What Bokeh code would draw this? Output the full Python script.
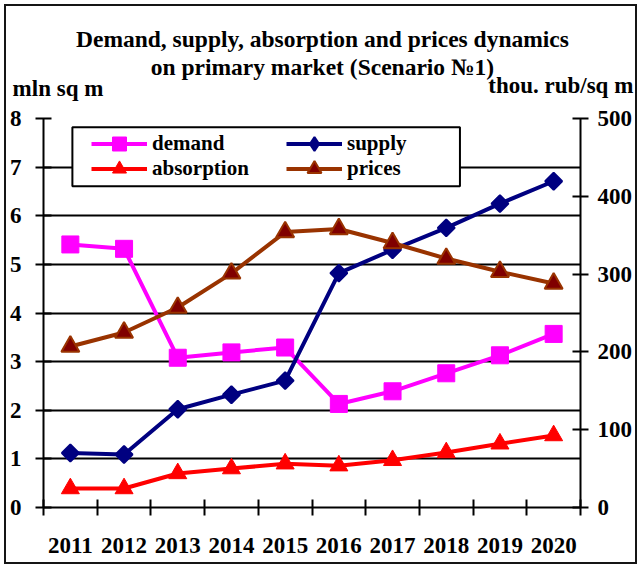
import numpy as np
from bokeh.plotting import figure
from bokeh.models import (Range1d, LinearAxis, FixedTicker, Legend, LegendItem,
                          Label, BoxAnnotation)
from bokeh.embed import file_html
from bokeh.resources import INLINE

# ---------------- data ----------------
years = ["2011", "2012", "2013", "2014", "2015", "2016", "2017", "2018", "2019", "2020"]
demand = [5.41, 5.32, 3.08, 3.19, 3.29, 2.13, 2.39, 2.76, 3.13, 3.57]
supply = [1.12, 1.09, 2.02, 2.32, 2.61, 4.82, 5.30, 5.75, 6.25, 6.71]
absorption = [0.39, 0.39, 0.70, 0.80, 0.90, 0.86, 0.97, 1.13, 1.31, 1.48]
prices = [207, 225, 257, 301, 354, 358, 340, 320, 303, 288]
left_ticks = [0, 1, 2, 3, 4, 5, 6, 7, 8]
right_ticks = [0, 100, 200, 300, 400, 500]

title_lines = ["Demand, supply, absorption and prices dynamics",
               "on primary market (Scenario \u21161)"]
left_unit = "mln sq m"
right_unit = "thou. rub/sq m"

FONT = "Liberation Serif"
x = np.arange(len(years)) + 0.5

p = figure(width=629, height=556, output_backend="svg", toolbar_location=None,
           x_range=Range1d(0, len(years)), y_range=Range1d(0, 8),
           min_border_left=37, min_border_right=53, min_border_top=112,
           min_border_bottom=55,
           styles={"margin-left": "6px", "margin-top": "6px",
                   "outline": "2px solid #151515"})
p.extra_y_ranges = {"price": Range1d(0, 500)}
p.outline_line_color = None
p.background_fill_color = "white"
p.border_fill_color = "white"

# grid
p.xgrid.grid_line_color = None
p.ygrid.ticker = FixedTicker(ticks=left_ticks)
p.ygrid.grid_line_color = "black"
p.ygrid.grid_line_width = 2

# bottom axis (labels at centers, ticks at boundaries)
xa = p.xaxis[0]
xa.ticker = FixedTicker(ticks=list(x), minor_ticks=list(range(len(years) + 1)))
xa.major_label_overrides = {float(xx): y for xx, y in zip(x, years)}
xa.major_tick_in = 0
xa.major_tick_out = 0
xa.minor_tick_in = 8
xa.minor_tick_out = 8
xa.minor_tick_line_color = "black"
xa.minor_tick_line_width = 2
xa.axis_line_width = 2
xa.major_label_standoff = 22
xa.major_label_text_font = FONT
xa.major_label_text_font_style = "bold"
xa.major_label_text_font_size = "23px"
xa.major_label_text_color = "black"

# left axis
ya = p.yaxis[0]
ya.ticker = FixedTicker(ticks=left_ticks)
ya.major_tick_in = 8
ya.major_tick_out = 8
ya.major_tick_line_width = 2
ya.minor_tick_line_color = None
ya.axis_line_width = 2
ya.major_label_standoff = 14
ya.major_label_text_font = FONT
ya.major_label_text_font_style = "bold"
ya.major_label_text_font_size = "23px"
ya.major_label_text_color = "black"

# right axis
ra = LinearAxis(y_range_name="price", ticker=FixedTicker(ticks=right_ticks))
ra.major_tick_in = 8
ra.major_tick_out = 8
ra.major_tick_line_width = 2
ra.minor_tick_line_color = None
ra.axis_line_width = 2
ra.major_label_standoff = 9
ra.major_label_text_font = FONT
ra.major_label_text_font_style = "bold"
ra.major_label_text_font_size = "23px"
ra.major_label_text_color = "black"
p.add_layout(ra, "right")

# series
lw = 4
l_dem = p.line(x, demand, line_color="#FF00FF", line_width=lw, line_join="round")
s_dem = p.scatter(x, demand, marker="square", size=17, fill_color="#FF00FF",
                  line_color="#FF00FF")
l_sup = p.line(x, supply, line_color="#000080", line_width=lw, line_join="round")
s_sup = p.scatter(x, supply, marker="square", angle=np.pi / 4, size=12,
                  fill_color="#000080", line_color="#000080", line_width=2)
# legend-only diamond glyph (a single missing point, nothing is plotted)
s_sup_leg = p.scatter(x=[np.nan], y=[np.nan], marker="diamond", size=12,
                      fill_color="#000080", line_color="#000080", line_width=2)
l_abs = p.line(x, absorption, line_color="#FF0000", line_width=lw, line_join="round")
s_abs = p.scatter(x, absorption, marker="triangle", size=18, fill_color="#FF0000",
                  line_color="#FF0000")
l_pr = p.line(x, prices, y_range_name="price", line_color="#993300", line_width=lw,
              line_join="round")
s_pr = p.scatter(x, prices, y_range_name="price", marker="triangle", size=18,
                 fill_color="#800000", line_color="#993300", line_width=2)

# legend box
box = BoxAnnotation(left=(72 - 43) / 53.9, right=(461 - 43) / 53.9,
                    top=(507 - 127) / 48.6, bottom=(507 - 186) / 48.6,
                    fill_color="white", fill_alpha=1, line_color="black",
                    line_width=2, line_alpha=1)
p.add_layout(box)


def mk_legend(label, rends, loc):
    lg = Legend(items=[LegendItem(label=label, renderers=rends)], location=loc,
                orientation="vertical",
                border_line_color=None, background_fill_alpha=0,
                padding=0, margin=0, spacing=0, glyph_width=56, glyph_height=35,
                label_height=22, label_standoff=5,
                label_text_font=FONT, label_text_font_style="bold",
                label_text_font_size="21px", label_text_color="black")
    p.add_layout(lg, "center")


row1 = 507 - 143 - 17.5
row2 = 507 - 168 - 17.5
mk_legend("demand", [l_dem, s_dem], (48, row1))
mk_legend("absorption", [l_abs, s_abs], (48, row2))
mk_legend("supply", [l_sup, s_sup_leg], (243, row1))
mk_legend("prices", [l_pr, s_pr], (243, row2))

# titles and unit labels (positions in data units of the frame), placed in
# the top panel so that they are not clipped to the frame
lab_kw = dict(text_font=FONT, text_font_style="bold", text_color="black",
              text_baseline="middle")
p.add_layout(Label(x=(323 - 43) / 53.9, y=(507 - 39) / 48.6, text=title_lines[0],
                   text_align="center", text_font_size="23.5px", **lab_kw), "above")
p.add_layout(Label(x=(323 - 43) / 53.9, y=(507 - 67) / 48.6, text=title_lines[1],
                   text_align="center", text_font_size="23.5px", **lab_kw), "above")
p.add_layout(Label(x=(12 - 43) / 53.9, y=(507 - 88) / 48.6, text=left_unit,
                   text_align="left", text_font_size="23px", **lab_kw), "above")
p.add_layout(Label(x=(635 - 43) / 53.9, y=(507 - 85) / 48.6, text=right_unit,
                   text_align="right", text_font_size="23px", **lab_kw), "above")

open("out.html", "w").write(file_html(p, INLINE))
